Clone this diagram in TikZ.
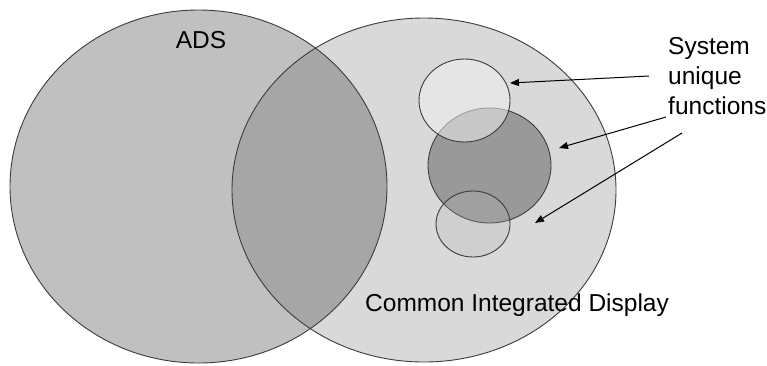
\documentclass[tikz,border=0pt]{standalone}
\usepackage{fontspec}
\setmainfont{Liberation Sans}
\usetikzlibrary{arrows.meta}
\definecolor{adsfill}{HTML}{C0C0C0}
\definecolor{cidfill}{HTML}{D9D9D9}
\definecolor{bothfill}{HTML}{A6A6A6}
\definecolor{rimline}{HTML}{3C3C3C}
\definecolor{corefill}{HTML}{999999}
\definecolor{topfill}{HTML}{F0F0F0}
\definecolor{lowfill}{HTML}{B5B5B5}
\tikzset{
  rim/.style={draw=rimline, line width=0.9pt},
  pointer/.style={draw=black, line width=1pt, -{Triangle[length=9pt,width=7pt]}},
  label/.style={font=\fontsize{24.5}{30}\selectfont, inner sep=0pt, text=black},
}
\begin{document}
\begin{tikzpicture}[x=1pt, y=-1pt]
\useasboundingbox (0,0) rectangle (767,365);
\fill[white] (0,0) rectangle (767,365);

% the two large sets
\fill[adsfill] (198.5,186.5) ellipse [x radius=188.5, y radius=176.5];
\fill[cidfill] (424,190) ellipse [x radius=192, y radius=172];
\begin{scope}
  \clip (198.5,186.5) ellipse [x radius=188.5, y radius=176.5];
  \fill[bothfill] (424,190) ellipse [x radius=192, y radius=172];
\end{scope}
\path[rim] (198.5,186.5) ellipse [x radius=188.5, y radius=176.5];
\path[rim] (424,190) ellipse [x radius=192, y radius=172];

% system unique function sets
\path[rim, fill=corefill] (489.5,165.5) ellipse [x radius=61.5, y radius=57.5];
\path[rim, fill=topfill, fill opacity=0.55] (464.5,100.5) ellipse [x radius=45.5, y radius=41.5];
\path[rim, fill=lowfill, fill opacity=0.25] (473,224) ellipse [x radius=37, y radius=33];

% labels
\node[label, anchor=base] (ads) at (201,48) {ADS};
\node[label, anchor=base west] (cid) at (365,311) {Common Integrated Display};
\node[label, anchor=north west, align=left] (suf) at (668,37) {System\\unique\\functions};

% pointers
\coordinate (t1) at (649,76);
\coordinate (t2) at (666,117);
\coordinate (t3) at (682,133);
\coordinate (h1) at (510,83);
\coordinate (h2) at (559,148);
\coordinate (h3) at (535,223);
\draw[pointer] (t1) -- (h1);
\draw[pointer] (t2) -- (h2);
\draw[pointer] (t3) -- (h3);
\end{tikzpicture}
\end{document}
